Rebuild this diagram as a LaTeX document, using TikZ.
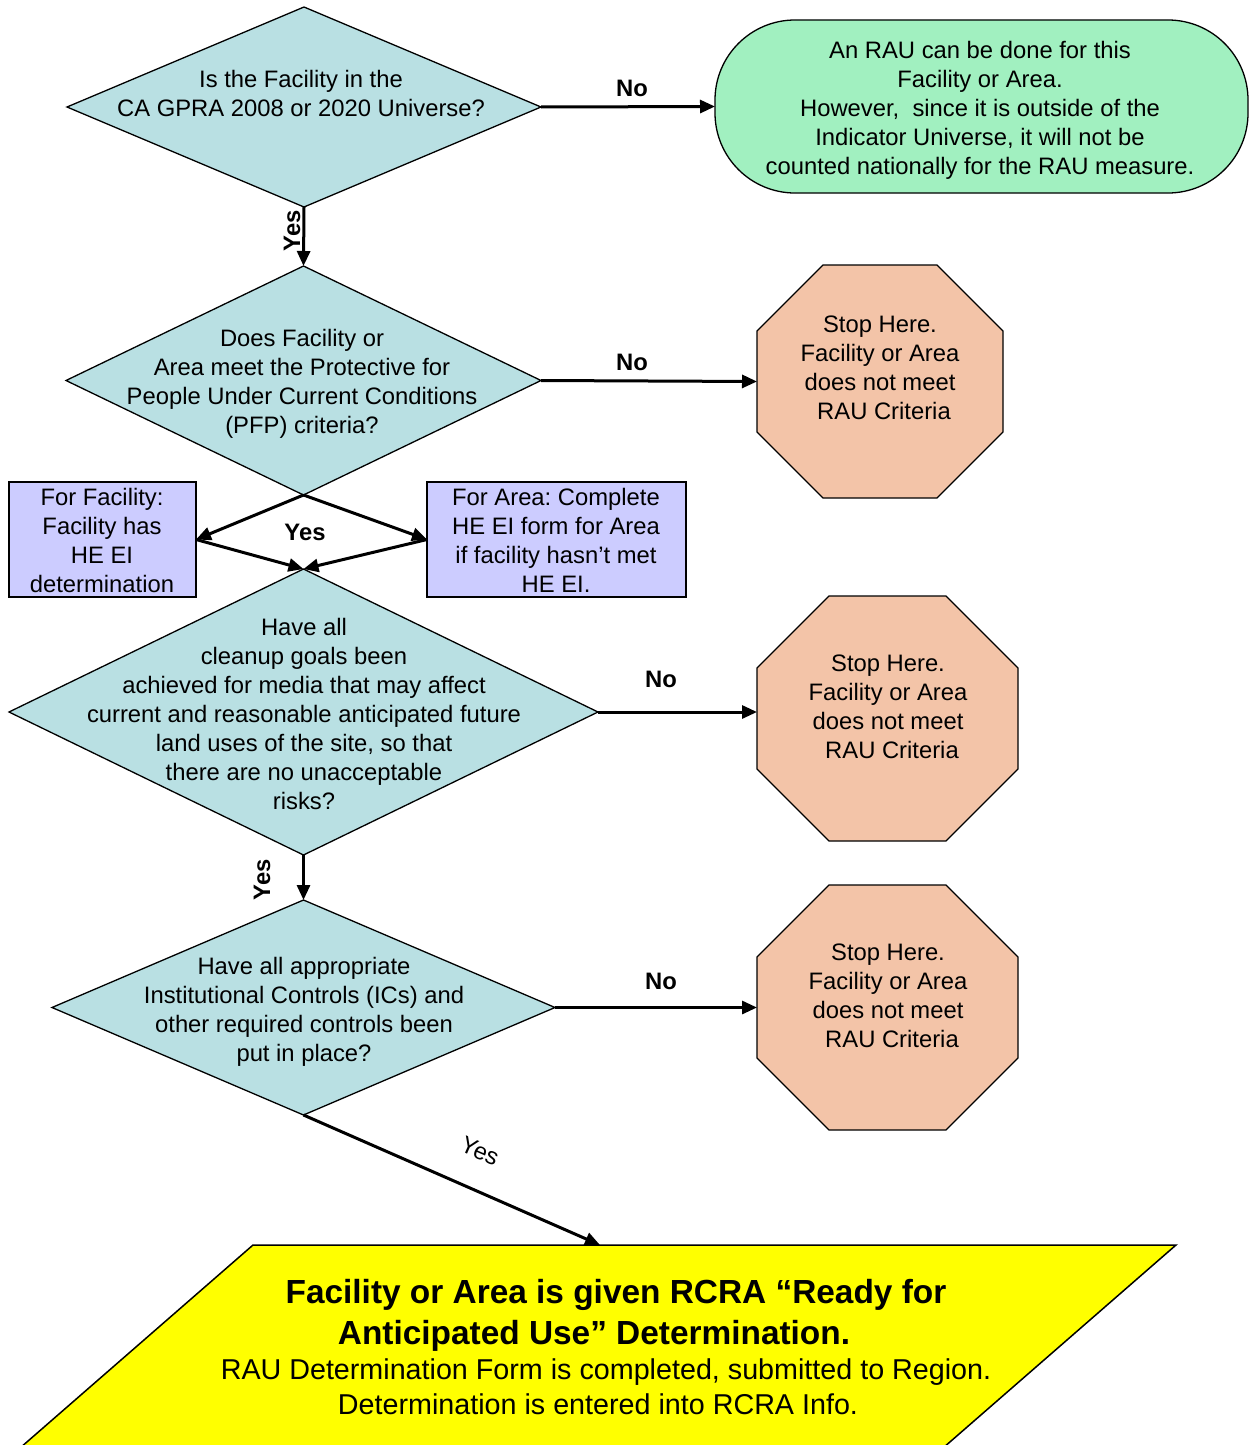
\documentclass[tikz,border=0pt]{standalone}
\usepackage{fontspec}
\setmainfont{Liberation Sans}
\usetikzlibrary{shapes.geometric,arrows.meta}
\definecolor{diacol}{RGB}{185,224,227}
\definecolor{greencol}{RGB}{161,240,192}
\definecolor{stopcol}{RGB}{243,196,168}
\definecolor{boxcol}{RGB}{204,204,255}
\definecolor{finalcol}{RGB}{255,255,0}
\frenchspacing
\newcommand\drawocto[2]{\draw[octo] ([xshift=#2]#1.north west) -- ([xshift=-#2]#1.north east) -- ([yshift=-#2]#1.north east) -- ([yshift=#2]#1.south east) -- ([xshift=-#2]#1.south east) -- ([xshift=#2]#1.south west) -- ([yshift=#2]#1.south west) -- ([yshift=-#2]#1.north west) -- cycle;}
\begin{document}
\begin{tikzpicture}[x=1pt,y=-1pt,
  dia/.style={diamond, draw, fill=diacol, line width=1.3pt, inner sep=0pt, outer sep=0pt},
  octbox/.style={rectangle, draw=none, inner sep=0pt, outer sep=0pt},
  octo/.style={draw, fill=stopcol, line width=1.3pt},
  hebox/.style={rectangle, draw, fill=boxcol, line width=1.3pt, inner sep=0pt, outer sep=0pt},
  txt/.style={align=center, inner sep=0pt, font=\fontsize{23.8}{29}\selectfont},
  lbl/.style={inner sep=0pt, font=\bfseries\fontsize{23.8}{29}\selectfont},
  arr/.style={-{Triangle[length=15pt,width=13pt]}, line width=3pt},
  para/.style={draw, fill=finalcol, line width=1.5pt}
]
\useasboundingbox (0,0) rectangle (1249,1445);
\clip (0,0) rectangle (1249,1445);
\fill[white] (0,0) rectangle (1249,1445);

% Decision 1
\node[dia, minimum width=474pt, minimum height=200pt] (d1) at (304,107) {};
\node[txt] (d1t) at (301,93) {Is the Facility in the\\CA GPRA 2008 or 2020 Universe?};

% Green terminal
\node[rectangle, draw, fill=greencol, rounded corners=80pt, line width=1.3pt, minimum width=533pt, minimum height=173pt, inner sep=0pt, outer sep=0pt] (g) at (981.5,106.5) {};
\node[txt] (gt) at (980,110) {An RAU can be done for this\\Facility or Area.\\However, \ since it is outside of the\\Indicator Universe, it will not be\\counted nationally for the RAU measure.};

% Decision 2
\node[dia, minimum width=475pt, minimum height=229pt] (d2) at (303.5,380.5) {};
\node[txt] (d2t) at (302,384) {Does Facility or\\Area meet the Protective for\\People Under Current Conditions\\(PFP) criteria?};

% Stop 1
\node[octbox, minimum width=246pt, minimum height=233pt] (s1) at (880,381.5) {};
\drawocto{s1}{66pt}
\node[txt] (s1t) at (880,368) {Stop Here.\hspace{12pt}\\Facility or Area\\does not meet\\\hspace{8pt}RAU Criteria};

% HE EI boxes
\node[hebox, minimum width=187pt, minimum height=115pt] (lb) at (102.5,539.5) {};
\node[txt] (lbt) at (102,540) {For Facility:\\Facility has\\HE EI\\determination};
\node[hebox, minimum width=259pt, minimum height=115pt] (rb) at (556.5,539.5) {};
\node[txt] (rbt) at (556,540) {For Area: Complete\\HE EI form for Area\\if facility hasn’t met\\HE EI.};

% Decision 3
\node[dia, minimum width=589pt, minimum height=286pt] (d3) at (303.5,712) {};
\node[txt] (d3t) at (304,713.5) {Have all\\cleanup goals been\\achieved for media that may affect\\current and reasonable anticipated future\\land uses of the site, so that\\there are no unacceptable\\risks?};

% Stop 2
\node[octbox, minimum width=261pt, minimum height=245pt] (s2) at (887.5,718.5) {};
\drawocto{s2}{72pt}
\node[txt] (s2t) at (888,707) {Stop Here.\hspace{12pt}\\Facility or Area\\does not meet\\\hspace{8pt}RAU Criteria};

% Decision 4
\node[dia, minimum width=503pt, minimum height=215pt] (d4) at (303.5,1007.5) {};
\node[txt] (d4t) at (304,1012) {Have all appropriate\\Institutional Controls (ICs) and\\other required controls been\\put in place?};

% Stop 3
\node[octbox, minimum width=261pt, minimum height=245pt] (s3) at (887.5,1007.5) {};
\drawocto{s3}{72pt}
\node[txt] (s3t) at (888,996) {Stop Here.\hspace{12pt}\\Facility or Area\\does not meet\\\hspace{8pt}RAU Criteria};

% Final parallelogram
\draw[para] (253,1245) -- (1176,1245) -- (912,1475) -- (-11,1475) -- cycle;
\coordinate (fin) at (600,1245);
\node[inner sep=0pt, anchor=base] (fint) at (606,1303) {\parbox[t]{1000pt}{\centering
  \bfseries\fontsize{33.4}{41}\selectfont \makebox[20pt]{}Facility or Area is given RCRA “Ready for\\Anticipated Use” Determination.\makebox[24pt]{}\par
  \mdseries\fontsize{28.7}{35}\selectfont RAU Determination Form is completed, submitted to Region.\\Determination is entered into RCRA Info.\makebox[16pt]{}\par}};

% Connectors
\draw[arr] (d1.east) -- (g.west);
\node[lbl] at (632,88) {No};
\draw[arr] (d1.south) -- (d2.north);
\node[lbl, rotate=90] at (292,231) {Yes};

\draw[arr] (d2.east) -- (s1.west);
\node[lbl] at (632,362) {No};
\draw[arr] (d2.south) -- (lb.east);
\draw[arr] (d2.south) -- (rb.west);
\draw[arr] (lb.east) -- (d3.north);
\draw[arr] (rb.west) -- (d3.north);
\node[lbl] at (305,532) {Yes};

\draw[arr] (d3.east) -- (d3.east -| s2.west);
\node[lbl] at (661,679) {No};
\draw[arr] (d3.south) -- (d4.north);
\node[lbl, rotate=90] at (262,880) {Yes};

\draw[arr] (d4.east) -- (s3.west);
\node[lbl] at (661,981) {No};
\draw[arr] (d4.south) -- (fin);
\node[txt, rotate=-23.6] at (480,1151) {Yes};
\end{tikzpicture}
\end{document}
